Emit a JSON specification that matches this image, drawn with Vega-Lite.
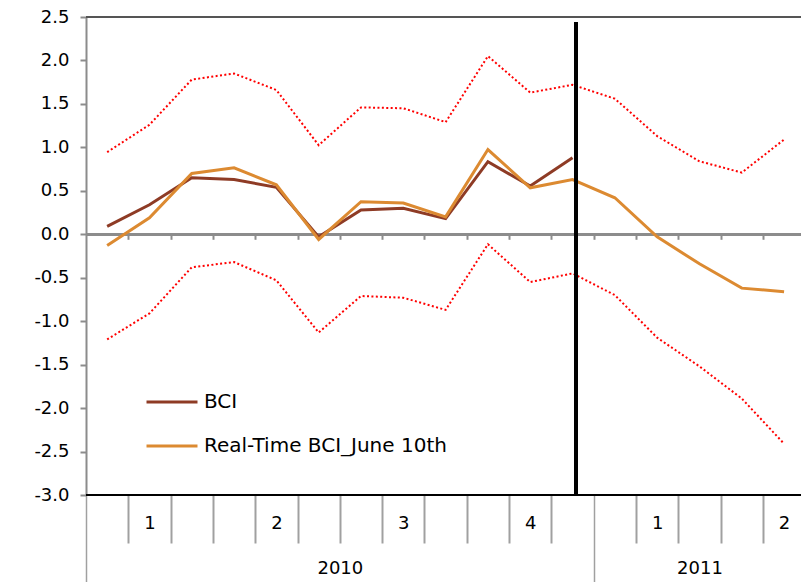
{
  "$schema": "https://vega.github.io/schema/vega-lite/v6.json",
  "width": 715,
  "height": 478,
  "autosize": {"type": "none"},
  "padding": {"left": 86, "top": 17, "right": 0, "bottom": 87},
  "config": {
    "view": {"stroke": null},
    "font": "DejaVu Sans",
    "axis": {"labelFont": "DejaVu Sans", "labelColor": "#000000", "grid": false, "title": null, "labelOverlap": false, "labelFlush": false}
  },
  "data": {
    "values": [
      {"i": 1, "s": "BCI", "v": 0.09}, {"i": 2, "s": "BCI", "v": 0.34}, {"i": 3, "s": "BCI", "v": 0.65},
      {"i": 4, "s": "BCI", "v": 0.63}, {"i": 5, "s": "BCI", "v": 0.54}, {"i": 6, "s": "BCI", "v": -0.03},
      {"i": 7, "s": "BCI", "v": 0.28}, {"i": 8, "s": "BCI", "v": 0.30}, {"i": 9, "s": "BCI", "v": 0.18},
      {"i": 10, "s": "BCI", "v": 0.835}, {"i": 11, "s": "BCI", "v": 0.555}, {"i": 12, "s": "BCI", "v": 0.88},
      {"i": 1, "s": "Real-Time BCI_June 10th", "v": -0.13}, {"i": 2, "s": "Real-Time BCI_June 10th", "v": 0.19},
      {"i": 3, "s": "Real-Time BCI_June 10th", "v": 0.70}, {"i": 4, "s": "Real-Time BCI_June 10th", "v": 0.765},
      {"i": 5, "s": "Real-Time BCI_June 10th", "v": 0.57}, {"i": 6, "s": "Real-Time BCI_June 10th", "v": -0.06},
      {"i": 7, "s": "Real-Time BCI_June 10th", "v": 0.375}, {"i": 8, "s": "Real-Time BCI_June 10th", "v": 0.36},
      {"i": 9, "s": "Real-Time BCI_June 10th", "v": 0.20}, {"i": 10, "s": "Real-Time BCI_June 10th", "v": 0.975},
      {"i": 11, "s": "Real-Time BCI_June 10th", "v": 0.535}, {"i": 12, "s": "Real-Time BCI_June 10th", "v": 0.63},
      {"i": 13, "s": "Real-Time BCI_June 10th", "v": 0.42}, {"i": 14, "s": "Real-Time BCI_June 10th", "v": -0.03},
      {"i": 15, "s": "Real-Time BCI_June 10th", "v": -0.34}, {"i": 16, "s": "Real-Time BCI_June 10th", "v": -0.62},
      {"i": 17, "s": "Real-Time BCI_June 10th", "v": -0.66},
      {"i": 1, "s": "Upper", "v": 0.945}, {"i": 2, "s": "Upper", "v": 1.26}, {"i": 3, "s": "Upper", "v": 1.78},
      {"i": 4, "s": "Upper", "v": 1.85}, {"i": 5, "s": "Upper", "v": 1.66}, {"i": 6, "s": "Upper", "v": 1.025},
      {"i": 7, "s": "Upper", "v": 1.46}, {"i": 8, "s": "Upper", "v": 1.45}, {"i": 9, "s": "Upper", "v": 1.29},
      {"i": 10, "s": "Upper", "v": 2.05}, {"i": 11, "s": "Upper", "v": 1.63}, {"i": 12, "s": "Upper", "v": 1.72},
      {"i": 13, "s": "Upper", "v": 1.56}, {"i": 14, "s": "Upper", "v": 1.13}, {"i": 15, "s": "Upper", "v": 0.84},
      {"i": 16, "s": "Upper", "v": 0.71}, {"i": 17, "s": "Upper", "v": 1.09},
      {"i": 1, "s": "Lower", "v": -1.21}, {"i": 2, "s": "Lower", "v": -0.91}, {"i": 3, "s": "Lower", "v": -0.38},
      {"i": 4, "s": "Lower", "v": -0.32}, {"i": 5, "s": "Lower", "v": -0.53}, {"i": 6, "s": "Lower", "v": -1.13},
      {"i": 7, "s": "Lower", "v": -0.71}, {"i": 8, "s": "Lower", "v": -0.73}, {"i": 9, "s": "Lower", "v": -0.87},
      {"i": 10, "s": "Lower", "v": -0.115}, {"i": 11, "s": "Lower", "v": -0.55}, {"i": 12, "s": "Lower", "v": -0.45},
      {"i": 13, "s": "Lower", "v": -0.70}, {"i": 14, "s": "Lower", "v": -1.19}, {"i": 15, "s": "Lower", "v": -1.52},
      {"i": 16, "s": "Lower", "v": -1.89}, {"i": 17, "s": "Lower", "v": -2.41}
    ]
  },
  "resolve": {"axis": {"x": "independent"}},
  "layer": [
    {
      "mark": {"type": "rule", "color": "#555555", "strokeWidth": 2},
      "encoding": {
        "y": {"datum": 2.5, "type": "quantitative", "scale": {"domain": [-3, 2.5], "nice": false, "zero": false},
          "axis": {"orient": "left", "values": [-3, -2.5, -2, -1.5, -1, -0.5, 0, 0.5, 1, 1.5, 2, 2.5],
            "labelExpr": "replace(format(datum.value, '.1f'), '\u2212', '-')",
            "labelFontSize": 18, "tickSize": 6, "tickColor": "#8c8c8c", "tickWidth": 2, "domainColor": "#8c8c8c", "domainWidth": 2, "labelPadding": 11}}
      }
    },
    {
      "mark": {"type": "rule", "color": "#000000", "strokeWidth": 2},
      "encoding": {
        "y": {"datum": -3, "type": "quantitative"},
        "x": {"datum": 0.5, "type": "quantitative", "scale": {"domain": [0.5, 17.4], "nice": false, "zero": false},
          "axis": {"orient": "bottom", "values": [6.5, 15], "labelExpr": "datum.value < 10 ? '2010' : '2011'", "ticks": false, "domain": false, "labelPadding": 64, "labelFontSize": 18}},
        "x2": {"datum": 17.4}
      }
    },
    {
      "mark": {"type": "rule", "color": "#8c8c8c", "strokeWidth": 2},
      "encoding": {
        "y": {"datum": 0, "type": "quantitative"},
        "x": {"datum": 0.5, "type": "quantitative", "scale": {"domain": [0.5, 17.4], "nice": false, "zero": false},
          "axis": {"orient": "bottom", "offset": -260.7, "values": [1.5, 2.5, 3.5, 4.5, 5.5, 6.5, 7.5, 8.5, 9.5, 10.5, 11.5, 12.5, 13.5, 14.5, 15.5, 16.5], "labels": false, "domain": false, "tickSize": 5, "tickColor": "#8c8c8c", "tickWidth": 2}},
        "x2": {"datum": 17.4}
      }
    },
    {
      "transform": [{"filter": "datum.s == 'Upper' || datum.s == 'Lower'"}],
      "mark": {"type": "line", "color": "#ff0000", "strokeWidth": 2, "strokeDash": [2, 2.4]},
      "encoding": {
        "x": {"field": "i", "type": "quantitative", "scale": {"domain": [0.5, 17.4], "nice": false, "zero": false},
          "axis": {"orient": "bottom", "values": [1.5, 2.5, 3.5, 4.5, 5.5, 6.5, 7.5, 8.5, 9.5, 10.5, 11.5, 13.5, 14.5, 15.5, 16.5], "labels": false, "domain": false, "tickSize": 48, "tickColor": "#a0a0a0", "tickWidth": 2}},
        "y": {"field": "v", "type": "quantitative"},
        "detail": {"field": "s"}
      }
    },
    {
      "transform": [{"filter": "datum.s == 'BCI' || datum.s == 'Real-Time BCI_June 10th'"}],
      "mark": {"type": "line", "strokeWidth": 3},
      "encoding": {
        "x": {"field": "i", "type": "quantitative", "scale": {"domain": [0.5, 17.4], "nice": false, "zero": false},
          "axis": {"orient": "bottom", "values": [2, 5, 8, 11, 14, 17], "labelExpr": "datum.value == 2 || datum.value == 14 ? '1' : datum.value == 5 || datum.value == 17 ? '2' : datum.value == 8 ? '3' : '4'", "ticks": false, "domain": false, "labelPadding": 19, "labelFontSize": 18}},
        "y": {"field": "v", "type": "quantitative"},
        "color": {"field": "s", "type": "nominal", "sort": ["BCI", "Real-Time BCI_June 10th"],
          "scale": {"domain": ["BCI", "Real-Time BCI_June 10th"], "range": ["#8e3b25", "#dc8a31"]},
          "legend": {"title": null, "orient": "none", "legendX": 59, "legendY": 358, "symbolType": "stroke", "symbolSize": 2600, "symbolStrokeWidth": 3, "labelFontSize": 20, "labelLimit": 0, "labelOffset": 5, "rowPadding": 7, "padding": 0, "labelColor": "#000000"}}
      }
    },
    {
      "mark": {"type": "rule", "color": "#000000", "strokeWidth": 3},
      "encoding": {
        "x": {"datum": 12.08, "type": "quantitative", "scale": {"domain": [0.5, 17.4], "nice": false, "zero": false},
          "axis": {"orient": "bottom", "values": [0.5, 12.5], "labels": false, "domain": false, "tickSize": 87, "tickColor": "#a0a0a0", "tickWidth": 1.5}},
        "y": {"datum": 2.44, "type": "quantitative"},
        "y2": {"datum": -3}
      }
    }
  ]
}
